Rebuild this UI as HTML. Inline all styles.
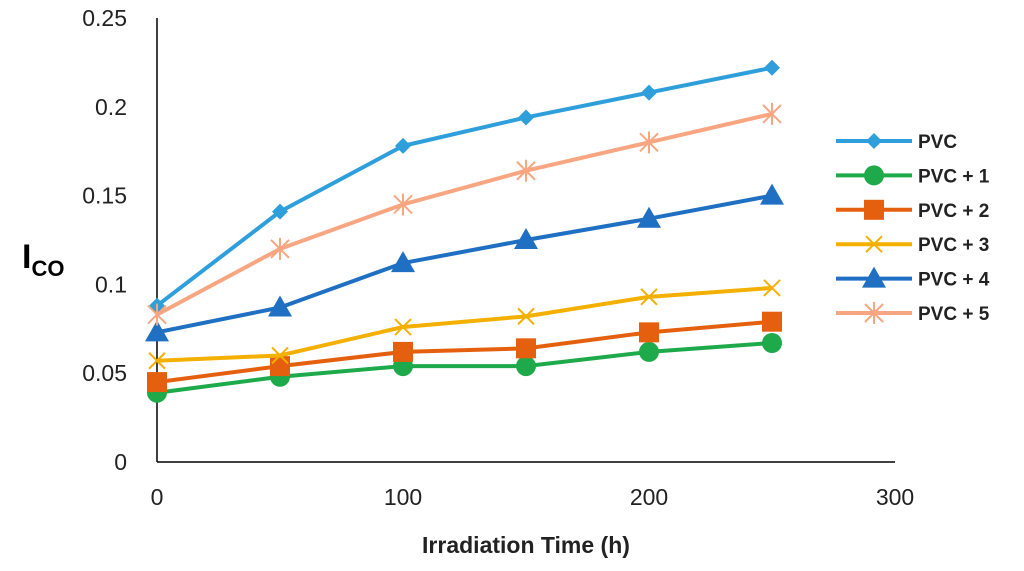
<!DOCTYPE html>
<html><head><meta charset="utf-8"><style>
body{margin:0;background:#fff;font-family:"Liberation Sans",sans-serif}
</style></head><body>
<svg id="chart" width="1024" height="566" xmlns="http://www.w3.org/2000/svg">
<g id="axes"></g>
<g id="series"></g>
<g id="legend"></g>
<text x="22" y="268" font-size="34" font-weight="bold" fill="#000">I<tspan font-size="22" dy="8">CO</tspan></text>
<text x="526" y="553" font-size="23" font-weight="bold" text-anchor="middle" fill="#222">Irradiation Time (h)</text>
</svg>
<script>
const xValues=[0,50,100,150,200,250];
const seriesNames=["PVC","PVC + 1","PVC + 2","PVC + 3","PVC + 4","PVC + 5"];
const pvc=[0.088,0.141,0.178,0.194,0.208,0.222];
const pvc1=[0.039,0.048,0.054,0.054,0.062,0.067];
const pvc2=[0.045,0.054,0.062,0.064,0.073,0.079];
const pvc3=[0.057,0.060,0.076,0.082,0.093,0.098];
const pvc4=[0.073,0.087,0.112,0.125,0.137,0.150];
const pvc5=[0.083,0.120,0.145,0.164,0.180,0.196];
const xTicks=[0,100,200,300];
const yTicks=[0,0.05,0.1,0.15,0.2,0.25];
const yTickLabels=["0","0.05","0.1","0.15","0.2","0.25"];
const allSeries=[pvc,pvc1,pvc2,pvc3,pvc4,pvc5];
const colors=["#2E9FDB","#1EAA4A","#E5600E","#F4B000","#1F6FC2","#F8A682"];
const markers=["diamond","circle","square","x","triangle","star"];
const NS="http://www.w3.org/2000/svg";
const X0=157,X1=895,Y0=462,Y1=18;
function sx(v){return X0+(v/300)*(X1-X0);}
function sy(v){return Y0-(v/0.25)*(Y0-Y1);}
function el(t,a,p){const e=document.createElementNS(NS,t);for(const k in a)e.setAttribute(k,a[k]);p.appendChild(e);return e;}
const axes=document.getElementById('axes');
let a=el('line',{x1:X0,y1:Y1,x2:X0,y2:Y0,stroke:'#000','stroke-width':1.5},axes);


a=el('line',{x1:X0,y1:Y0,x2:X1,y2:Y0,stroke:'#000','stroke-width':1.5},axes);


yTicks.forEach((v,i)=>{const t=el('text',{x:127,y:sy(v)+8,'font-size':23,'text-anchor':'end',fill:'#222'},axes);t.textContent=yTickLabels[i];

});
xTicks.forEach(v=>{const t=el('text',{x:sx(v),y:505,'font-size':23,'text-anchor':'middle',fill:'#222'},axes);t.textContent=v;

});
function marker(g,type,x,y,c){
 let m;
 if(type==='diamond')m=el('polygon',{points:`${x},${y-8} ${x+8},${y} ${x},${y+8} ${x-8},${y}`,fill:c},g);
 else if(type==='circle')m=el('circle',{cx:x,cy:y,r:10,fill:c},g);
 else if(type==='square')m=el('rect',{x:x-10,y:y-10,width:20,height:20,fill:c},g);
 else if(type==='triangle')m=el('polygon',{points:`${x},${y-12} ${x+12},${y+9} ${x-12},${y+9}`,fill:c},g);
 else if(type==='x')m=el('path',{d:`M${x-8},${y-8}L${x+8},${y+8}M${x-8},${y+8}L${x+8},${y-8}`,stroke:c,'stroke-width':2},g);
 else m=el('path',{d:`M${x-9},${y-9}L${x+9},${y+9}M${x-9},${y+9}L${x+9},${y-9}M${x},${y-11}L${x},${y+11}`,stroke:c,'stroke-width':2},g);
 return m;
}
const sg=document.getElementById('series');
allSeries.forEach((s,i)=>{
 const g=el('g',{},sg);
 
 
 const pts=s.map((v,j)=>sx(xValues[j])+','+sy(v)).join(' ');
 const l=el('polyline',{points:pts,fill:'none',stroke:colors[i],'stroke-width':4,'stroke-linejoin':'round'},g);
 
 
 s.forEach((v,j)=>{const m=marker(g,markers[i],sx(xValues[j]),sy(v),colors[i]);
 
 });
});
const lg=document.getElementById('legend');
seriesNames.forEach((n,i)=>{
 const y=141+i*34.4;
 const g=el('g',{},lg);
 
 
 el('line',{x1:836,y1:y,x2:912,y2:y,stroke:colors[i],'stroke-width':4},g);
 marker(g,markers[i],874,y,colors[i]);
 const t=el('text',{x:918,y:y+7,'font-size':19,'font-weight':'bold',fill:'#222'},g);t.textContent=n;
});
</script>
</body></html>
